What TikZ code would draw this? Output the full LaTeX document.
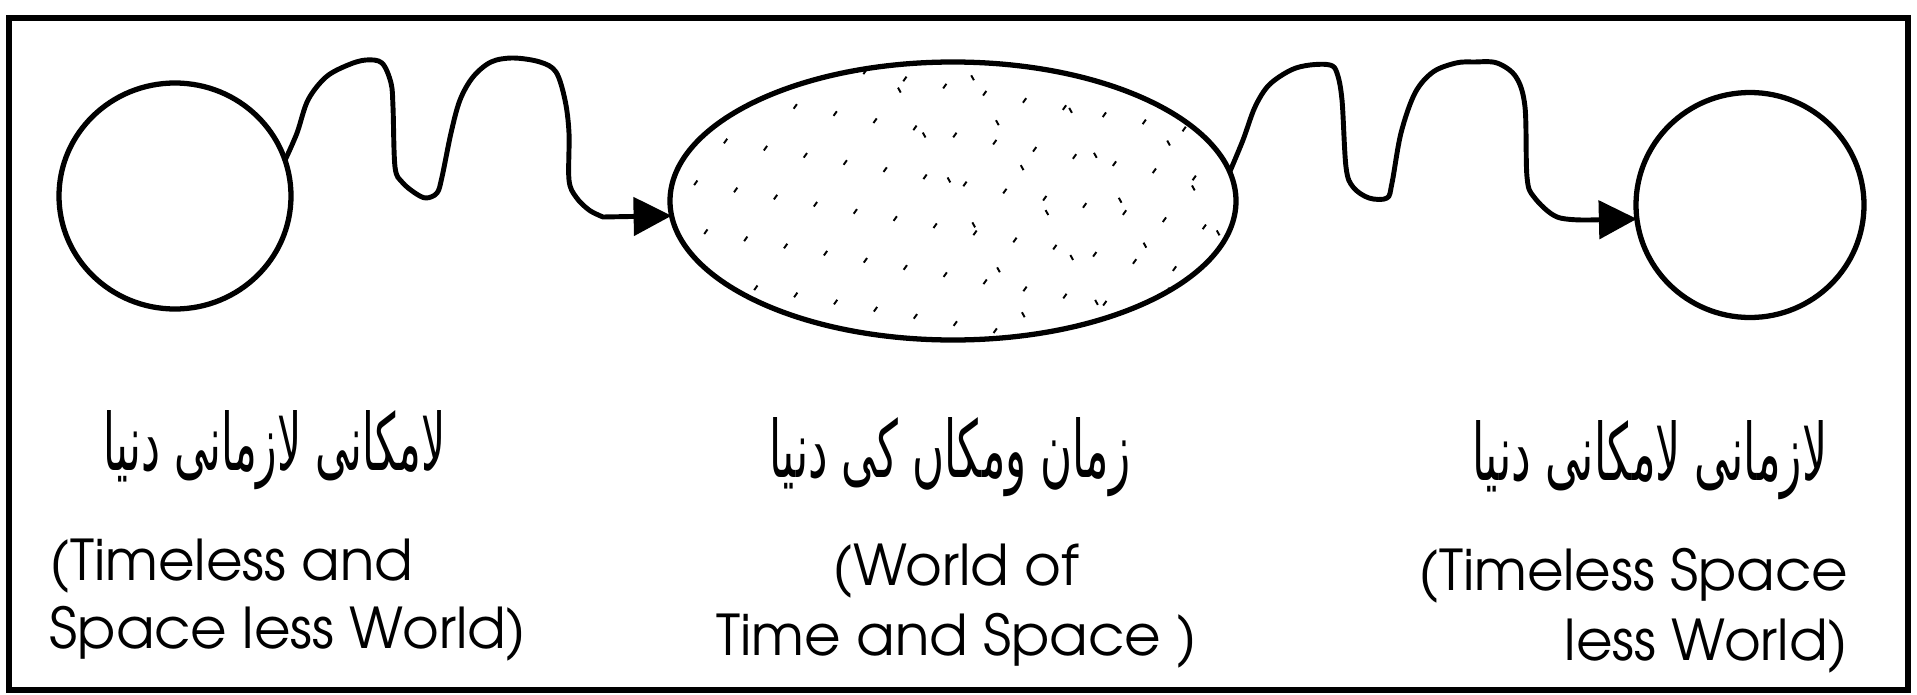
\documentclass[tikz,border=0pt]{standalone}
\usepackage{graphicx}
\usepackage{fontspec}
\setmainfont{texgyreadventor-regular.otf}
\newfontfamily\urdufont[Script=Arabic]{DejaVu Sans}
\TeXXeTstate=1
\usetikzlibrary{shapes.geometric,arrows.meta}
\tikzset{
  world/.style={draw, ellipse, line width=1.5pt, inner sep=0pt, outer sep=0pt},
  wave/.style={line width=1.4pt, line join=round, -{Triangle[length=3.8mm,width=3.8mm]}},
  frame/.style={line width=1.6pt},
  eng/.style={font=\fontsize{16}{19.6}\selectfont, inner sep=0pt},
  urdu/.style={inner sep=0pt},
  texture/.style={line width=0.55pt, dash pattern=on 1.6pt off 13pt},
}
\begin{document}
\begin{tikzpicture}[x=0.1mm, y=-0.1mm]
\useasboundingbox (0,0) rectangle (1917,695);
\fill[white] (0,0) rectangle (1917,695);
\draw[frame] (9,18) rectangle (1908,690);

% sparse texture inside the middle ellipse
\begin{scope}
  \clip (953,201) ellipse [x radius=2.83cm, y radius=1.39cm];
  \foreach \x [count=\i] in {580,625,...,1130}{
    \draw[texture, dash phase=\i*2.5pt] (\x,345) -- ++(207,-290);
  }
  \foreach \x [count=\i] in {880,960,...,1200}{
    \draw[texture, dash phase=\i*4pt] (\x,55) -- ++(160,290);
  }
\end{scope}

\node[world, minimum width=2.32cm, minimum height=2.26cm] (L) at (175,196) {};
\node[world, minimum width=5.66cm, minimum height=2.78cm] (E) at (953,201) {};
\node[world, minimum width=2.28cm, minimum height=2.25cm] (R) at (1750,205) {};

\draw[wave] plot[smooth, tension=0.55] coordinates {(L.18) (297,133) (308,100) (326,77) (348,65) (366,60) (382,63) (391,83) (393,107) (395,167) (402,182) (415,193) (426,198) (437,193) (442,177) (451,133) (460,100) (473,77) (491,62) (513,58) (540,62) (556,72) (565,100) (569,133) (569,180) (576,197) (589,210) (603,217)} -- (E.183);

\draw[wave] plot[smooth, tension=0.55] coordinates {(E.6) (1243,140) (1255,107) (1269,85) (1291,70) (1310,65) (1330,65) (1337,73) (1342,100) (1346,167) (1353,187) (1369,198) (1387,198) (1392,183) (1401,133) (1415,93) (1433,72) (1456,63) (1474,62) (1497,63) (1516,77) (1525,107) (1527,177) (1534,197) (1557,217) (1589,220)} -- (R.187);

\node[urdu, anchor=base] (uL) at (275,470) {\resizebox{3.42cm}{0.6cm}{\urdufont\beginR لامکانی لازمانی دنیا\endR}};
\node[urdu, anchor=base] (uC) at (950,477) {\resizebox{3.61cm}{0.6cm}{\urdufont\beginR زمان ومکاں کی دنیا\endR}};
\node[urdu, anchor=base] (uR) at (1650,480) {\resizebox{3.55cm}{0.6cm}{\urdufont\beginR لازمانی لامکانی دنیا\endR}};

\node[eng, anchor=base west] (eL1) at (49,580) {(Timeless and};
\node[eng, anchor=base west] (eL2) at (49,648) {Space less World)};
\node[eng, anchor=base] (eC1) at (956,585) {(World of};
\node[eng, anchor=base] (eC2) at (957,655) {Time and Space )};
\node[eng, anchor=base east] (eR1) at (1849,590) {(Timeless Space};
\node[eng, anchor=base east] (eR2) at (1849,660) {less World)};
\end{tikzpicture}
\end{document}
